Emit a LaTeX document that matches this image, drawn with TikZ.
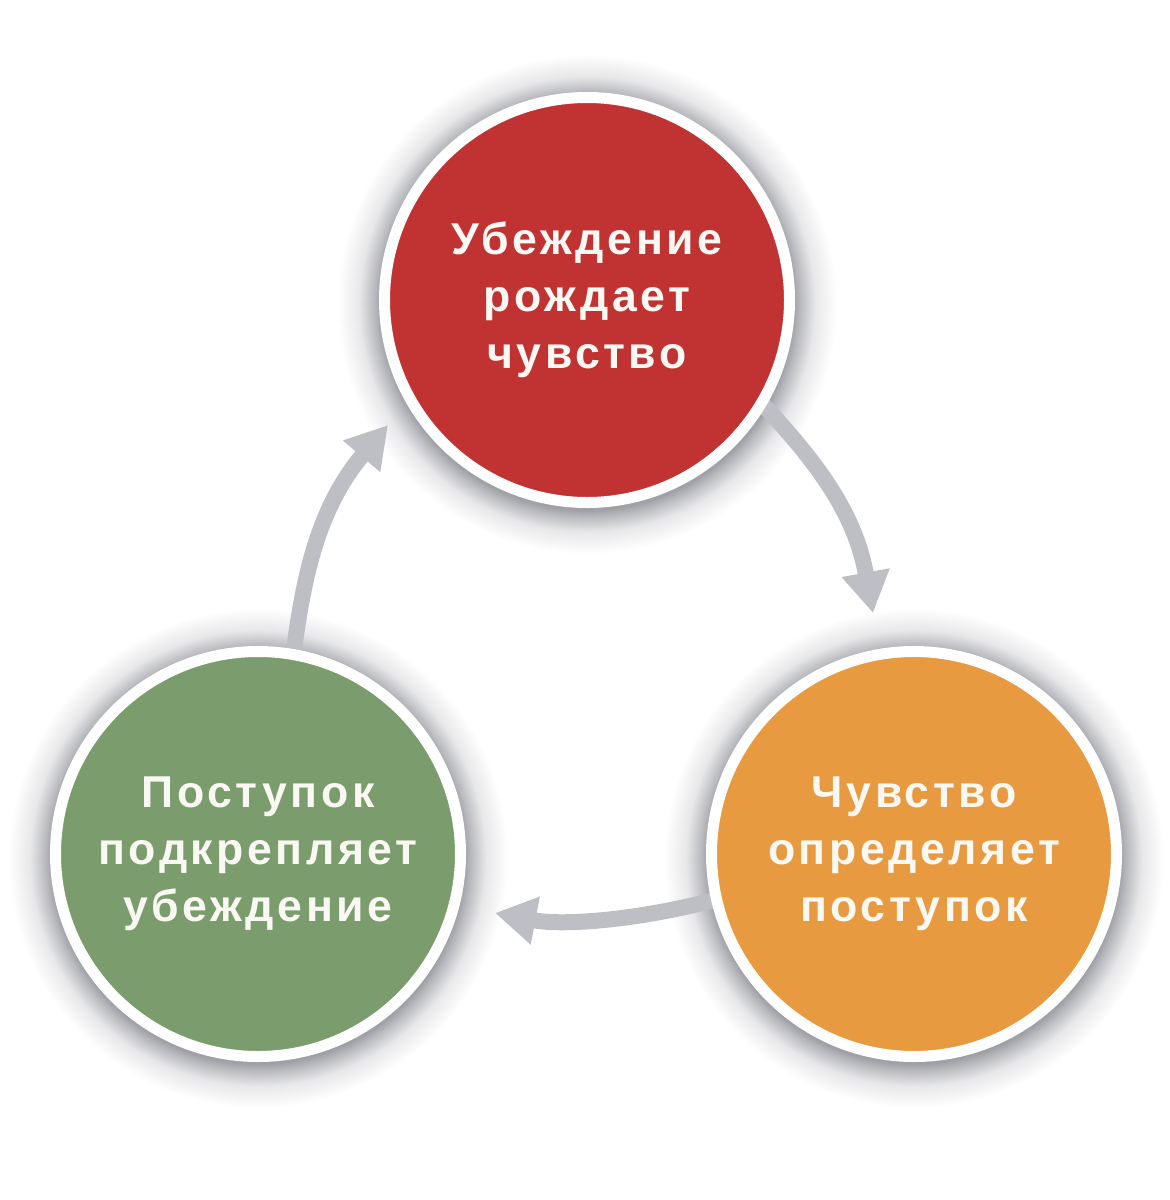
\documentclass[tikz,border=0pt]{standalone}
\usepackage{fontspec}
\newfontfamily\lblfont[LetterSpace=8]{Liberation Sans}
\usetikzlibrary{arrows.meta}
\definecolor{cred}{RGB}{193,51,50}
\definecolor{cgreen}{RGB}{123,156,108}
\definecolor{corange}{RGB}{232,154,64}
\definecolor{carrow}{RGB}{190,191,196}
\definecolor{cshadow}{RGB}{160,161,167}
\definecolor{ctext}{RGB}{250,248,242}
\pgfdeclareradialshading{glowshade}{\pgfpoint{0bp}{0bp}}{color(0bp)=(cshadow); color(20.6bp)=(cshadow); color(21.4bp)=(cshadow!70!white); color(22.8bp)=(cshadow!25!white); color(25bp)=(white); color(50bp)=(white)}
\pgfdeclarelayer{back}
\pgfdeclarelayer{bg}
\pgfsetlayers{back,bg,main}
\tikzset{
  bubble/.style={circle, draw=white, line width=5.5pt, minimum size=202.5pt, inner sep=0pt,
    text=ctext, font=\lblfont\bfseries\fontsize{22.3pt}{28.5pt}\selectfont, align=center},
  arr/.style={draw=carrow, line width=8pt, -{Triangle[width=23pt,length=20.5pt]}, shorten <=-3pt},
  glow/.style={shading=glowshade}
}
\begin{document}
\begin{tikzpicture}[x=0.5pt,y=-0.5pt]
\begin{pgfonlayer}{back}
  \fill[white] (0,0) rectangle (1170,1200);
\end{pgfonlayer}
\useasboundingbox (0,0) rectangle (1170,1200);

\node[bubble, fill=cred]    (red)    at (587,300) {Убеждение\\рождает\\чувство};
\node[bubble, fill=cgreen]  (green)  at (258,854) {Поступок\\подкрепляет\\убеждение};
\node[bubble, fill=corange] (orange) at (914,854) {Чувство\\определяет\\поступок};

\coordinate (t1) at (873,613);
\coordinate (t2) at (495,913);
\coordinate (t3) at (388,425);

\begin{pgfonlayer}{bg}
  \shade[glow] ([yshift=-2pt]red.center) circle[radius=125pt];
  \shade[glow] ([yshift=-2pt]green.center) circle[radius=125pt];
  \shade[glow] ([yshift=-2pt]orange.center) circle[radius=125pt];

  \draw[arr] (red.-31) .. controls (831,476) and (857,525) .. (t1);
  \draw[arr] (orange.193) .. controls (639,920) and (564,926) .. (t2);
  \draw[arr] (green.80) .. controls (303,580) and (317,509) .. (t3);
\end{pgfonlayer}
\end{tikzpicture}
\end{document}
